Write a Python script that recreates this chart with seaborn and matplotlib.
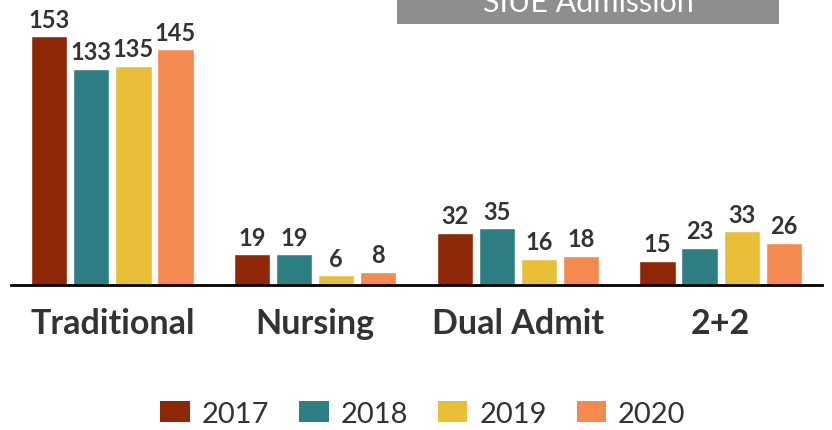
import matplotlib.pyplot as plt
import matplotlib.patches as mpatches
import pandas as pd
import seaborn as sns

sns.set_style("white")
plt.rcParams["font.family"] = ["Lato", "DejaVu Sans"]

categories = ["Traditional", "Nursing", "Dual Admit", "2+2"]
years = ["2017", "2018", "2019", "2020"]
counts_2017 = [153, 19, 32, 15]
counts_2018 = [133, 19, 35, 23]
counts_2019 = [135, 6, 16, 33]
counts_2020 = [145, 8, 18, 26]
colors = ["#8E2706", "#2E7F84", "#E9BF38", "#F48A50"]
text_color = "#333333"

rows = []
for year, vals in zip(years, [counts_2017, counts_2018, counts_2019, counts_2020]):
    for cat, v in zip(categories, vals):
        rows.append({"category": cat, "year": year, "count": v})
df = pd.DataFrame(rows)

fig = plt.figure(figsize=(8.32, 4.31), dpi=100)
ax = fig.add_axes([11 / 832, 145 / 431, 811 / 832, 286 / 431])

sns.barplot(data=df, x="category", y="count", hue="year", order=categories,
            hue_order=years, palette=colors, width=0.83, gap=0.14,
            saturation=1, errorbar=None, legend=False, ax=ax)

for container in ax.containers:
    ax.bar_label(container, padding=4, fontsize=17, fontweight="bold",
                 color=text_color)

ax.set_xlim(-0.5, 3.5)
ax.set_ylim(0, 176)
ax.set_xlabel("")
ax.set_ylabel("")
ax.set_yticks([])
sns.despine(ax=ax, left=True, top=True, right=True)
ax.spines["bottom"].set_linewidth(2)
ax.spines["bottom"].set_color("black")
ax.tick_params(axis="x", length=12, width=2, color="black", direction="out",
               pad=4, labelsize=24.5, labelcolor=text_color)
for lbl in ax.get_xticklabels():
    lbl.set_fontweight("bold")

# title box at the top, clipped by the edge of the figure
fig.patches.append(mpatches.Rectangle((397 / 832, 406 / 431), 382 / 832, 25 / 431,
                                      transform=fig.transFigure,
                                      facecolor="#8E8E8E", edgecolor="none"))
fig.text(588 / 832, 419 / 431, "SIUE Admission", color="white", fontsize=22,
         ha="center", va="baseline")

handles = [mpatches.Patch(facecolor=c, edgecolor="none") for c in colors]
fig.legend(handles, years, loc="center", bbox_to_anchor=(423 / 832, 16 / 431), ncol=4,
           frameon=False, fontsize=21, handlelength=1.0, handleheight=0.72,
           handletextpad=0.4, columnspacing=1.05, labelcolor=text_color)

fig.savefig("out.png", dpi=100)
